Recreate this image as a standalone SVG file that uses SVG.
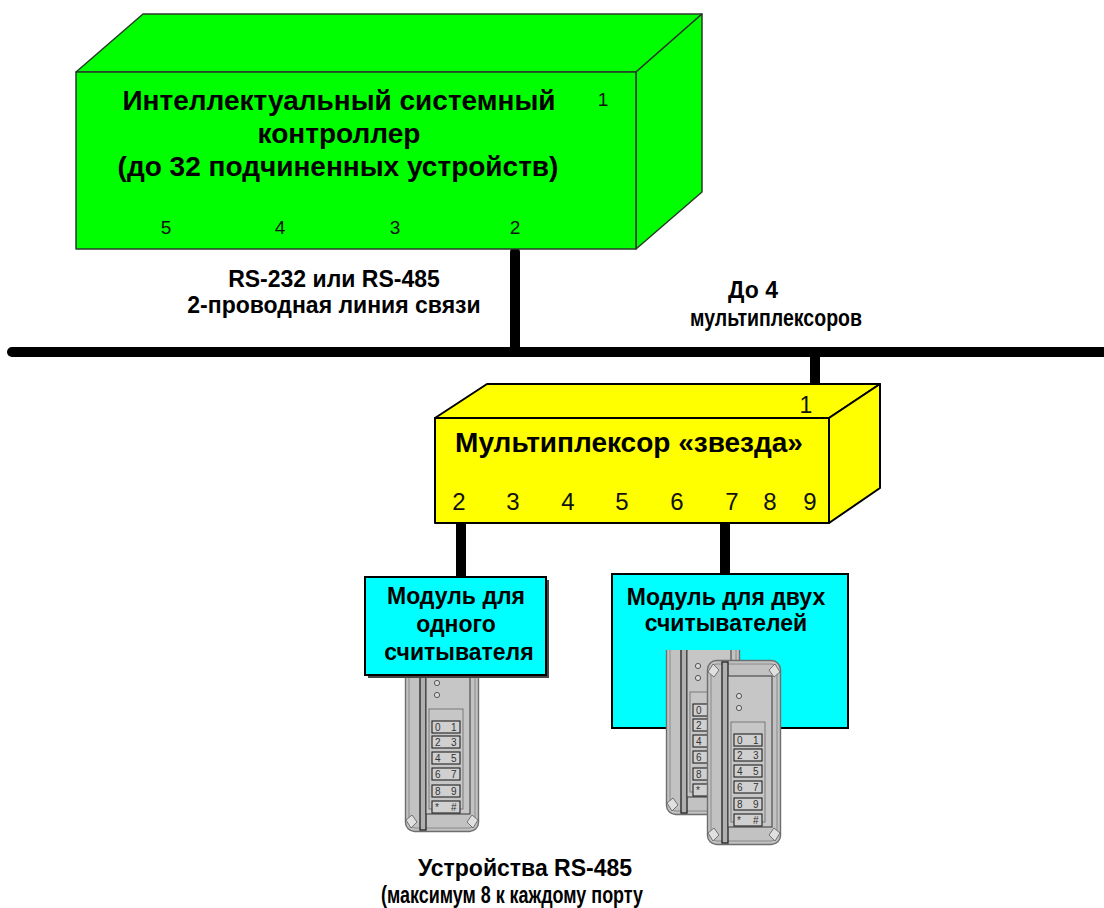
<svg xmlns="http://www.w3.org/2000/svg" width="1104" height="908" viewBox="0 0 1104 908">
  <style>
    .lbl { font-family: "Liberation Sans", Arial, sans-serif; font-weight: bold; fill: #000; text-anchor: middle; }
    .port { font-family: "Liberation Sans", Arial, sans-serif; fill: #111; text-anchor: middle; }
    .key { font-family: "Liberation Sans", Arial, sans-serif; font-size: 10px; fill: #333; }
    .wire { stroke: #000; stroke-width: 10; stroke-linecap: round; fill: none; }
    .green { fill: #00ff00; stroke: #2a3a2a; stroke-width: 1.5; stroke-linejoin: round; }
    .yellow { fill: #ffff00; stroke: #000; stroke-width: 2; stroke-linejoin: round; }
    .cyan { fill: #00ffff; stroke: #000; stroke-width: 2; }
  </style>
  <defs>
    <!-- keypad reader, 74 x 185 -->
    <g id="reader">
      <rect x="0.5" y="0.5" width="73" height="184" rx="9" fill="#c2c2c2" stroke="#6e6e6e" stroke-width="1.4"/>
      <rect x="4" y="4" width="66" height="177" rx="6" fill="none" stroke="#858585" stroke-width="0.9"/>
      <rect x="15" y="2" width="6" height="181" fill="#b0b0b0" stroke="#222" stroke-width="1.3"/>
      <rect x="21" y="16" width="44" height="151" fill="#c6c6c6" stroke="#444" stroke-width="1.1"/>
      <rect x="24" y="62" width="34" height="100" fill="none" stroke="#666" stroke-width="0.8"/>
      <circle cx="32" cy="36" r="2.6" fill="#dcdcdc" stroke="#555" stroke-width="1"/>
      <circle cx="32" cy="48" r="2.6" fill="#dcdcdc" stroke="#555" stroke-width="1"/>
      <g fill="#d0d0d0" stroke="#222" stroke-width="1.1">
        <rect x="27" y="74" width="28" height="12"/>
        <rect x="27" y="89" width="28" height="12"/>
        <rect x="27" y="105" width="28" height="12"/>
        <rect x="27" y="121" width="28" height="12"/>
        <rect x="27" y="138" width="28" height="12"/>
        <rect x="27" y="154" width="28" height="12"/>
      </g>
      <text class="key" x="30" y="84">0</text><text class="key" x="46" y="84">1</text>
      <text class="key" x="30" y="99">2</text><text class="key" x="46" y="99">3</text>
      <text class="key" x="30" y="115">4</text><text class="key" x="46" y="115">5</text>
      <text class="key" x="30" y="131">6</text><text class="key" x="46" y="131">7</text>
      <text class="key" x="30" y="148">8</text><text class="key" x="46" y="148">9</text>
      <text class="key" x="30" y="164">*</text><text class="key" x="46" y="164">#</text>
      <!-- corner bevels -->
      <g fill="#e0e0e0" stroke="#666" stroke-width="0.9">
        <path d="M1,173 L7,168 L12,175 L6,181 Z"/>
        <path d="M73,173 L67,168 L62,175 L68,181 Z"/>
        <path d="M1,12 L7,17 L12,10 L6,4 Z"/>
        <path d="M73,12 L67,17 L62,10 L68,4 Z"/>
      </g>
    </g>
    <clipPath id="clipBack">
      <rect x="600" y="650" width="200" height="220"/>
    </clipPath>
  </defs>

  <!-- connectors -->
  <g id="connectors">
    <line class="wire" x1="12" y1="352" x2="1110" y2="352"/>
    <line class="wire" x1="515" y1="252" x2="515" y2="352"/>
    <line class="wire" x1="815" y1="352" x2="815" y2="389"/>
    <line class="wire" x1="461" y1="521" x2="461" y2="576"/>
    <line class="wire" x1="725" y1="521" x2="725" y2="576"/>
  </g>

  <!-- controller -->
  <g id="controller">
    <polygon class="green" points="76,72 143,14 702,14 636,72"/>
    <polygon class="green" points="636,72 702,14 702,192 636,249"/>
    <rect class="green" x="76" y="72" width="560" height="177"/>
    <text class="lbl" x="339" y="110" font-size="28">Интеллектуальный системный</text>
    <text class="lbl" x="339" y="143" font-size="28">контроллер</text>
    <text class="lbl" x="338" y="176" font-size="28">(до 32 подчиненных устройств)</text>
    <text class="port" x="603" y="106" font-size="19">1</text>
    <text class="port" x="166" y="234" font-size="19">5</text>
    <text class="port" x="280" y="234" font-size="19">4</text>
    <text class="port" x="395" y="234" font-size="19">3</text>
    <text class="port" x="515" y="234" font-size="19">2</text>
  </g>

  <!-- line labels -->
  <g id="bus-labels">
    <text class="lbl" x="334" y="287" font-size="23">RS-232 или RS-485</text>
    <text class="lbl" x="334" y="313" font-size="23">2-проводная линия связи</text>
    <text class="lbl" x="753" y="298" font-size="23">До 4</text>
    <text class="lbl" x="776" y="326" font-size="23" textLength="172" lengthAdjust="spacingAndGlyphs">мультиплексоров</text>
  </g>

  <!-- star multiplexer -->
  <g id="multiplexer">
    <polygon class="yellow" points="435,418 487,384 880,384 829,418"/>
    <polygon class="yellow" points="829,418 880,384 880,488 829,523"/>
    <rect class="yellow" x="435" y="418" width="394" height="105"/>
    <text class="lbl" x="629" y="452" font-size="28">Мультиплексор «звезда»</text>
    <text class="port" x="806" y="413" font-size="23">1</text>
    <g font-size="24">
      <text class="port" x="459" y="510">2</text>
      <text class="port" x="513" y="510">3</text>
      <text class="port" x="568" y="510">4</text>
      <text class="port" x="622" y="510">5</text>
      <text class="port" x="677" y="510">6</text>
      <text class="port" x="732" y="510">7</text>
      <text class="port" x="770" y="510">8</text>
      <text class="port" x="810" y="510">9</text>
    </g>
  </g>

  <!-- single reader module -->
  <g id="module-single">
    <use href="#reader" x="405" y="647"/>
    <rect x="368" y="580" width="181" height="98" fill="#444"/>
    <rect class="cyan" x="365" y="577" width="181" height="98"/>
    <text class="lbl" x="456" y="604" font-size="23">Модуль для</text>
    <text class="lbl" x="456" y="632" font-size="23">одного</text>
    <text class="lbl" x="459" y="660" font-size="23">считывателя</text>
  </g>

  <!-- dual reader module -->
  <g id="module-dual">
    <rect class="cyan" x="612" y="574" width="236" height="154"/>
    <text class="lbl" x="726" y="605" font-size="23">Модуль для двух</text>
    <text class="lbl" x="726" y="631" font-size="23">считывателей</text>
    <g clip-path="url(#clipBack)">
      <use href="#reader" x="666" y="630"/>
    </g>
    <use href="#reader" x="707" y="660"/>
  </g>

  <!-- devices caption -->
  <g id="devices-caption">
    <text class="lbl" x="525" y="876" font-size="23">Устройства RS-485</text>
    <text class="lbl" x="512" y="903" font-size="23" textLength="262" lengthAdjust="spacingAndGlyphs">(максимум 8 к каждому порту</text>
  </g>
</svg>
